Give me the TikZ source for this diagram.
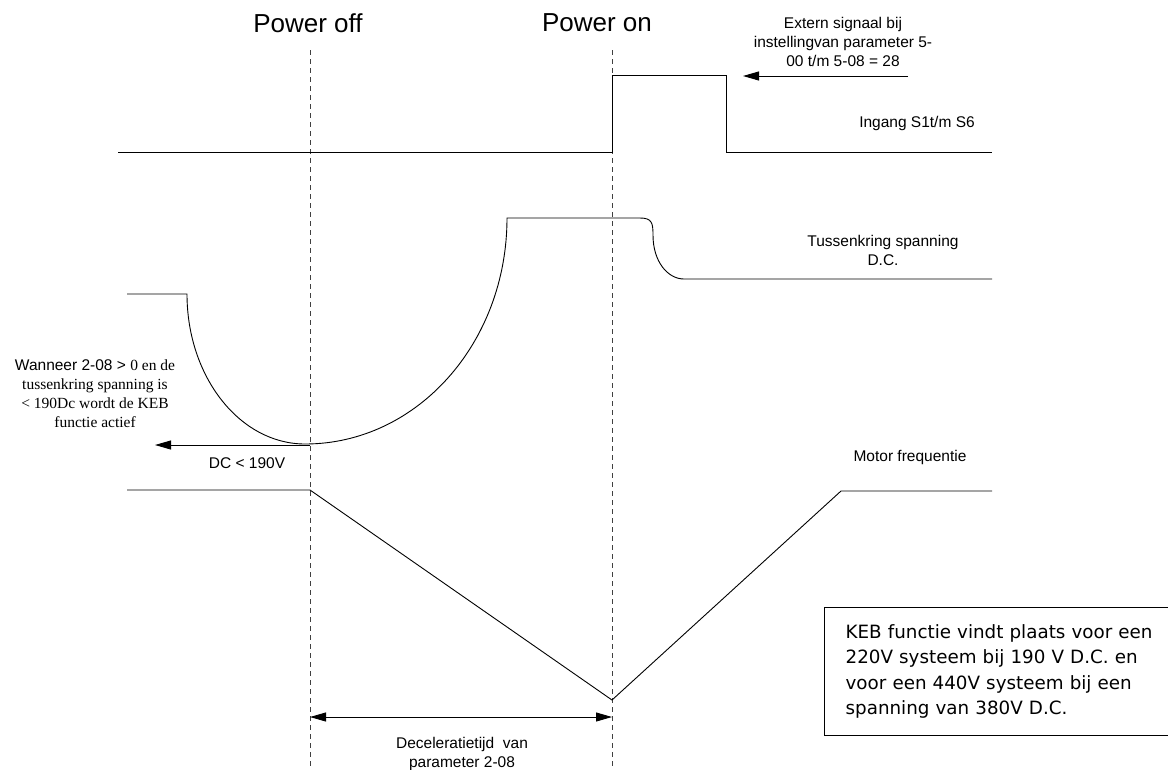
\documentclass[tikz,border=0pt]{standalone}
\usepackage{fontspec}
\setmainfont{Liberation Sans}
\newfontfamily\timesfont{Liberation Serif}
\newfontfamily\boxfont{DejaVu Sans}
\usetikzlibrary{arrows.meta}

\begin{document}
\begin{tikzpicture}[x=1pt,y=-1pt,
    sig/.style={line width=0.9pt},
    marker/.style={line width=0.8pt, black!75, dash pattern=on 5pt off 4pt},
    pointer/.style={-{Triangle[length=16pt,width=9pt]}},
    bipointer/.style={{Triangle[length=16pt,width=9pt]}-{Triangle[length=16pt,width=9pt]}},
    lbl/.style={inner sep=0pt, align=center, font=\fontsize{15.5}{19}\selectfont},
    title/.style={inner sep=0pt, font=\fontsize{26}{30}\selectfont}]
    \useasboundingbox (0,0) rectangle (1168,769);
    % power off / power on markers
    \coordinate (offtop) at (310,50);
    \coordinate (offbot) at (310,769);
    \coordinate (ontop) at (612,50);
    \coordinate (onbot) at (612,769);
    \draw[marker] (offtop) -- (offbot);
    \draw[marker] (ontop) -- (onbot);
    \node[title] (poff) at (308,23) {Power off};
    \node[title] (pon) at (597,23) {Power on};
    % input signal
    \draw[sig] (118,152) -- (612,152) -- (612,75) -- (726,75) -- (726,152) -- (992,152);
    \node[lbl] (ext) at (843,42) {Extern signaal bij\\instellingvan parameter 5-\\00 t/m 5-08 = 28};
    \coordinate (extstart) at (908,76);
    \coordinate (extend) at (743,76);
    \draw[sig,pointer] (extstart) -- (extend);
    \node[lbl] (ing) at (917,123) {Ingang S1t/m S6};
    % DC bus voltage
    \draw[sig] (127,294) -- (187,294)
        .. controls (187,377) and (240,444) .. (305,444)
        .. controls (417,444) and (507,343) .. (507,218)
        -- (640,218) .. controls (652,218) and (653,223) .. (653,235)
        .. controls (653,262) and (668,279) .. (684,279) -- (992,279);
    \node[lbl] (dcl) at (883,250) {Tussenkring spanning\\D.C.};
    \coordinate (dcmin) at (310,445);
    \coordinate (dcleft) at (155,445);
    \draw[sig,pointer] (dcmin) -- (dcleft);
    \node[lbl] (dclow) at (247,463) {DC < 190V};
    \node[lbl] (kebnote) at (95,394) {Wanneer 2-08 > {\timesfont 0 en de}\\\timesfont tussenkring spanning is\\\timesfont < 190Dc wordt de KEB\\\timesfont functie actief};
    % motor frequency
    \draw[sig] (127,490) -- (310,490) -- (612,700) -- (841,491) -- (992,491);
    \node[lbl] (mot) at (910,457) {Motor frequentie};
    \coordinate (decstart) at (310,717);
    \coordinate (decend) at (612,717);
    \draw[sig,bipointer] (decstart) -- (decend);
    \node[lbl] (dec) at (462,754) {Deceleratietijd\ \ van\\parameter 2-08};
    % note box
    \node[draw, line width=1.3pt, anchor=north west, minimum width=348pt, minimum height=128pt,
        inner xsep=21pt, text width=320pt, align=left,
        font=\boxfont\fontsize{18.3}{25.5}\selectfont] (kebbox) at (824,607)
        {KEB functie vindt plaats voor een\\220V systeem bij 190 V D.C. en\\voor een 440V systeem bij een\\spanning van 380V D.C.};
\end{tikzpicture}
\end{document}
